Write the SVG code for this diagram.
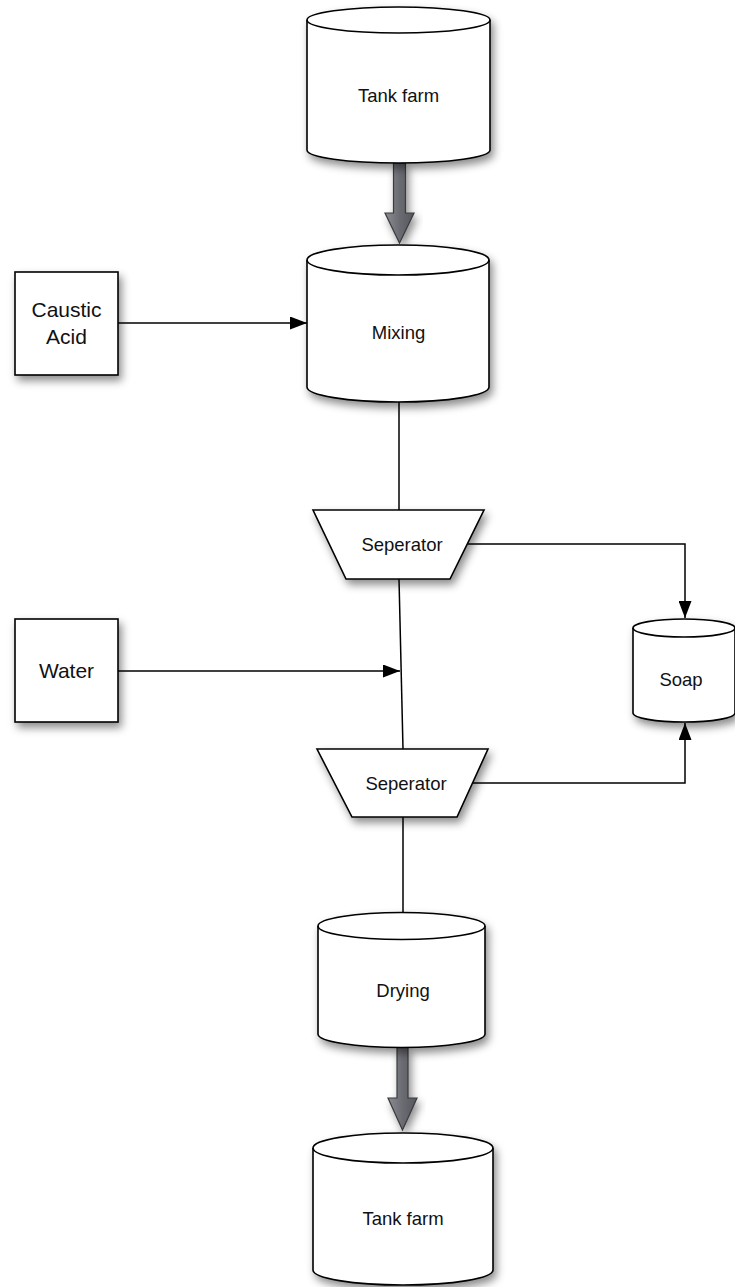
<svg xmlns="http://www.w3.org/2000/svg" width="735" height="1287" viewBox="0 0 735 1287">
<defs>
<filter id="sh" x="-20%" y="-20%" width="150%" height="150%">
<feDropShadow dx="3" dy="5" stdDeviation="4" flood-color="#000" flood-opacity="0.45"/>
</filter>
<linearGradient id="ga" x1="0" y1="0" x2="1" y2="0">
<stop offset="0" stop-color="#8a8c92"/>
<stop offset="0.5" stop-color="#6a6c72"/>
<stop offset="1" stop-color="#55575d"/>
</linearGradient>
<marker id="ah" viewBox="0 0 17 13" refX="17" refY="6.5" markerWidth="17" markerHeight="13" markerUnits="userSpaceOnUse" orient="auto">
<path d="M0,0 L17,6.5 L0,13 Z" fill="#000"/>
</marker>
</defs>
<style>
.shape{fill:#fff;stroke:#000;stroke-width:1.6;filter:url(#sh)}
.rim{fill:none;stroke:#000;stroke-width:1.6}
.lbl{font-family:"Liberation Sans",Arial,sans-serif;font-size:18.5px;fill:#111;text-anchor:middle}
.big{font-size:21px}
.conn{fill:none;stroke:#000;stroke-width:1.5}
.block{fill:url(#ga);stroke:#3a3a3e;stroke-width:1.2;filter:url(#sh)}
</style>
<rect width="735" height="1287" fill="#fff"/>

<g id="connectors">
<line class="conn" x1="118" y1="323" x2="307" y2="323" marker-end="url(#ah)"/>
<line class="conn" x1="399" y1="402" x2="399" y2="510"/>
<polyline class="conn" points="468,544 685,544 685,618" marker-end="url(#ah)"/>
<line class="conn" x1="399" y1="579" x2="403" y2="749"/>
<line class="conn" x1="118" y1="671" x2="400" y2="671" marker-end="url(#ah)"/>
<polyline class="conn" points="471,783 685,783 685,723" marker-end="url(#ah)"/>
<line class="conn" x1="403" y1="817" x2="403" y2="913"/>
<path class="block" d="M393.5,163 L405.5,163 L405.5,213 L414,213 L399.5,243 L385,213 L393.5,213 Z"/>
<path class="block" d="M397,1047 L408,1047 L408,1098 L417,1098 L402.5,1130 L388,1098 L397,1098 Z"/>
</g>

<g id="tank-farm-top">
<path class="shape" d="M307,20 A91.5,13 0 0 1 490,20 L490,150 A91.5,13 0 0 1 307,150 Z"/>
<path class="rim" d="M307,20 A91.5,13 0 0 0 490,20"/>
<text class="lbl" x="398.5" y="102">Tank farm</text>
</g>

<g id="caustic-acid">
<rect class="shape" x="15" y="272" width="103" height="103"/>
<text class="lbl big" x="66.5" y="316.5">Caustic</text>
<text class="lbl big" x="66.5" y="343.5">Acid</text>
</g>

<g id="mixing">
<path class="shape" d="M307,260 A91,15 0 0 1 489,260 L489,387 A91,15 0 0 1 307,387 Z"/>
<path class="rim" d="M307,260 A91,15 0 0 0 489,260"/>
<text class="lbl" x="398.5" y="339">Mixing</text>
</g>

<g id="separator-1">
<path class="shape" d="M313,510 L484,510 L450,579 L346,579 Z"/>
<text class="lbl" x="402" y="551">Seperator</text>
</g>

<g id="water">
<rect class="shape" x="15" y="619" width="103" height="103"/>
<text class="lbl big" x="66.5" y="678">Water</text>
</g>

<g id="soap">
<path class="shape" d="M633,628 A51,9 0 0 1 735,628 L735,713 A51,9 0 0 1 633,713 Z"/>
<path class="rim" d="M633,628 A51,9 0 0 0 735,628"/>
<text class="lbl" x="681" y="686">Soap</text>
</g>

<g id="separator-2">
<path class="shape" d="M317,749 L488,749 L457,817 L352,817 Z"/>
<text class="lbl" x="406" y="790">Seperator</text>
</g>

<g id="drying">
<path class="shape" d="M318,926 A83.5,13.5 0 0 1 485,926 L485,1034 A83.5,13.5 0 0 1 318,1034 Z"/>
<path class="rim" d="M318,926 A83.5,13.5 0 0 0 485,926"/>
<text class="lbl" x="403" y="996.5">Drying</text>
</g>

<g id="tank-farm-bottom">
<path class="shape" d="M313,1148 A90,15 0 0 1 493,1148 L493,1270 A90,15 0 0 1 313,1270 Z"/>
<path class="rim" d="M313,1148 A90,15 0 0 0 493,1148"/>
<text class="lbl" x="403" y="1225">Tank farm</text>
</g>
</svg>
